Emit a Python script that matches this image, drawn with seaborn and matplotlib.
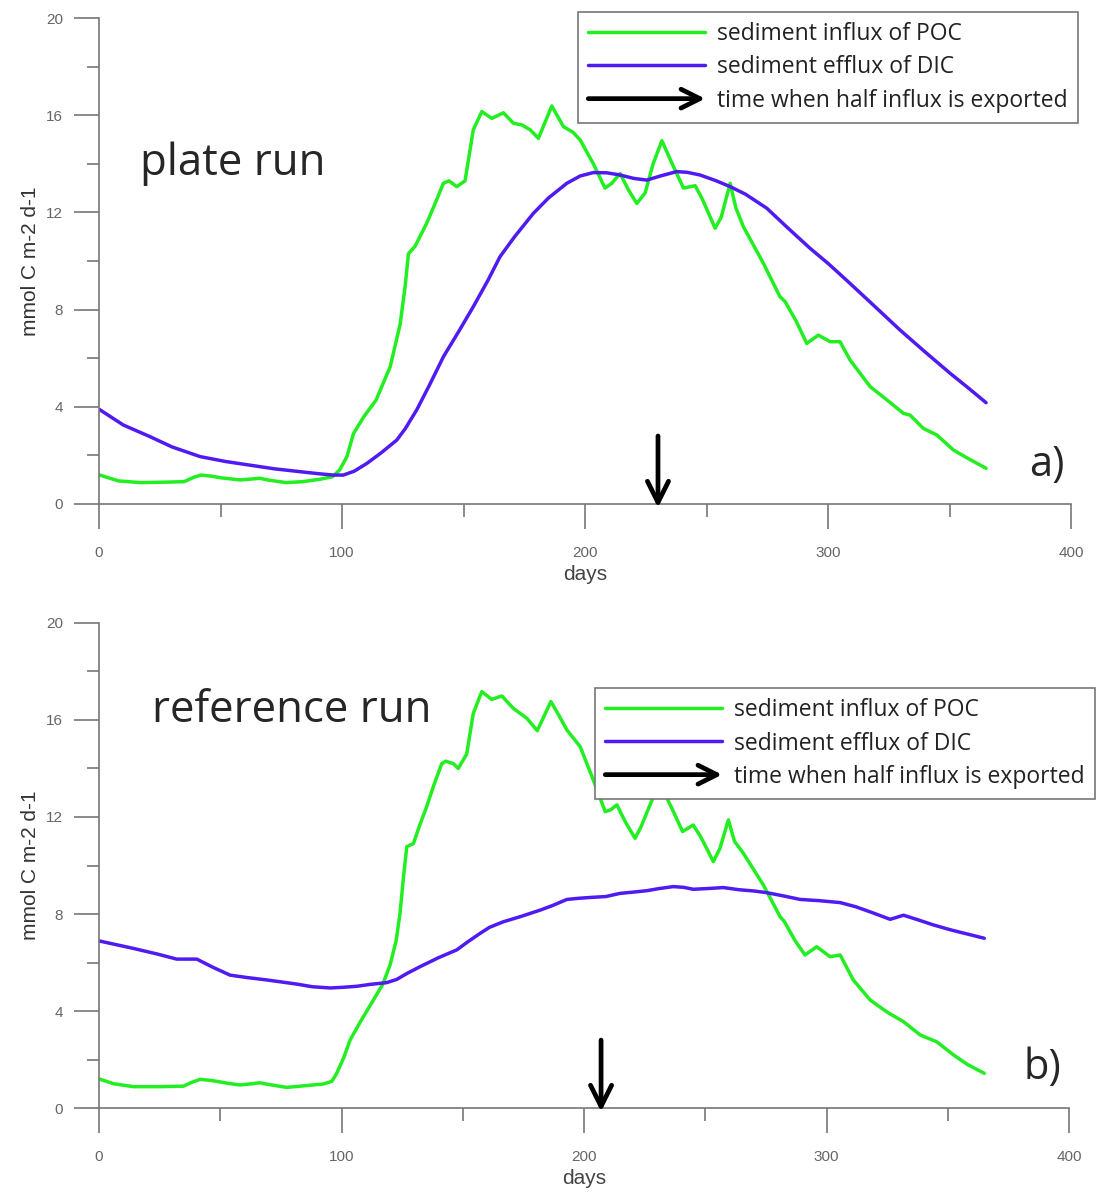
import numpy as np
import pandas as pd
import matplotlib
matplotlib.use('Agg')
import matplotlib.pyplot as plt
import seaborn as sns
from matplotlib.ticker import MultipleLocator
from matplotlib.legend_handler import HandlerBase
from matplotlib.patches import FancyArrowPatch
from matplotlib.lines import Line2D

# plate run (a)
plate_poc_days = [0, 8, 17, 28, 35, 39, 42, 46, 50, 58, 63, 66, 70, 77, 84, 91, 96, 99, 102, 104.7,
                  109, 114, 119.8, 123.9, 126, 127.3, 130, 134.8, 138, 141.7, 144, 147.2, 150.6, 154,
                  157.5, 161.6, 166.4, 170.5, 174, 177.4, 180.8, 186.3, 191.1, 195, 198, 203.4, 208.2,
                  211, 214.4, 218, 221.3, 224.7, 228, 231.6, 236.3, 240.5, 245.3, 248, 253.5, 256,
                  259.7, 262, 265.2, 273.4, 280.2, 282.3, 287, 291.2, 296, 300.8, 304.9, 309, 317.3,
                  324, 331, 333.7, 339.2, 344.7, 351.6, 358, 365]
plate_poc = [1.2, 0.95, 0.88, 0.9, 0.92, 1.1, 1.19, 1.15, 1.08, 0.99, 1.03, 1.06, 0.98, 0.88, 0.92,
             1.02, 1.12, 1.4, 1.95, 2.9, 3.6, 4.28, 5.65, 7.4, 9.0, 10.3, 10.6, 11.55, 12.3, 13.2,
             13.3, 13.06, 13.3, 15.4, 16.15, 15.87, 16.1, 15.67, 15.6, 15.4, 15.05, 16.38, 15.53,
             15.3, 14.98, 14.0, 13.0, 13.2, 13.6, 12.9, 12.37, 12.8, 14.0, 14.95, 13.9, 13.0, 13.1,
             12.6, 11.35, 11.8, 13.2, 12.2, 11.4, 9.9, 8.53, 8.33, 7.5, 6.61, 6.95, 6.68, 6.68,
             5.93, 4.83, 4.3, 3.73, 3.66, 3.11, 2.84, 2.22, 1.85, 1.47]
plate_dic_days = [0, 10, 21, 30, 41.6, 52, 62, 72, 82.7, 90, 96.4, 100.5, 105, 110.2, 116, 122.5,
                  126, 130.7, 136, 141.7, 148, 154, 160, 165, 171, 178.7, 185, 192.5, 198, 203.4,
                  209, 214.4, 220, 225.4, 231, 237.7, 242, 247.3, 254, 259.7, 266, 274.8, 283,
                  292.6, 300, 309, 319, 329.6, 340, 350.2, 358, 365]
plate_dic = [3.9, 3.25, 2.77, 2.35, 1.95, 1.75, 1.6, 1.45, 1.33, 1.25, 1.19, 1.19, 1.35, 1.67, 2.1,
             2.63, 3.1, 3.87, 4.9, 6.06, 7.1, 8.12, 9.2, 10.18, 11.0, 11.96, 12.6, 13.2, 13.5,
             13.64, 13.63, 13.54, 13.4, 13.33, 13.5, 13.68, 13.65, 13.54, 13.3, 13.06, 12.75,
             12.17, 11.4, 10.52, 9.9, 9.08, 8.15, 7.16, 6.25, 5.38, 4.75, 4.17]
plate_half_day = 230

# reference run (b)
ref_poc_days = [0, 6, 14.2, 25, 34.8, 38, 41.6, 45, 48.5, 53, 58.1, 63, 66.3, 70, 77.3, 85, 92.5,
                96, 98, 101, 103.5, 108, 113.1, 117, 120, 122.5, 124.1, 125.5, 126.9, 129.6, 132,
                135.1, 138, 141.3, 143, 146.1, 148.1, 151.6, 154.3, 157.8, 161.9, 166.1, 170.8,
                176.4, 180.7, 186.3, 189, 192.9, 198.4, 203.8, 208.7, 211, 213.5, 217, 221, 223.5,
                228, 231.6, 236, 240.6, 245, 248, 253.3, 256, 259.5, 262, 265.7, 273.9, 280.8,
                282.5, 287, 291.1, 295.9, 301.4, 305.6, 311, 318, 325, 331.7, 338.6, 345.4, 352.3,
                358, 365]
ref_poc = [1.2, 1.0, 0.88, 0.88, 0.9, 1.05, 1.18, 1.15, 1.1, 1.02, 0.95, 1.0, 1.04, 0.97, 0.85,
           0.92, 0.99, 1.1, 1.43, 2.1, 2.8, 3.6, 4.45, 5.1, 5.9, 6.9, 8.03, 9.5, 10.78, 10.9, 11.6,
           12.43, 13.3, 14.2, 14.3, 14.2, 14.0, 14.6, 16.27, 17.17, 16.85, 16.99, 16.48, 16.07,
           15.56, 16.76, 16.3, 15.59, 14.9, 13.53, 12.22, 12.3, 12.5, 11.8, 11.12, 11.6, 12.7,
           13.28, 12.4, 11.4, 11.67, 11.2, 10.16, 10.7, 11.88, 11.0, 10.5, 9.2, 7.89, 7.7, 6.9,
           6.31, 6.65, 6.24, 6.31, 5.28, 4.45, 3.95, 3.56, 3.01, 2.73, 2.19, 1.8, 1.43]
ref_dic_days = [0, 14.2, 24, 32, 40.3, 47, 54, 61, 69.2, 75, 81.5, 88, 95.3, 101, 106.3, 112,
                118.6, 122.7, 127, 132.4, 140, 147.5, 152, 157.1, 161, 166.7, 174, 181.9, 187,
                192.9, 198, 203.8, 209, 214.8, 220, 225.8, 231, 236.8, 241, 245, 251, 257.4, 264,
                270, 275.3, 282, 289.1, 297, 305.6, 312, 319, 326.2, 331.7, 338, 344, 351, 357.8,
                365]
ref_dic = [6.89, 6.58, 6.35, 6.14, 6.14, 5.8, 5.48, 5.38, 5.28, 5.2, 5.11, 5.0, 4.95, 4.98, 5.02,
           5.1, 5.17, 5.3, 5.55, 5.83, 6.2, 6.52, 6.85, 7.2, 7.45, 7.68, 7.9, 8.16, 8.35, 8.6,
           8.65, 8.69, 8.72, 8.85, 8.9, 8.96, 9.05, 9.13, 9.1, 9.02, 9.05, 9.09, 9.0, 8.95, 8.88,
           8.75, 8.6, 8.55, 8.47, 8.3, 8.05, 7.78, 7.95, 7.75, 7.55, 7.35, 7.18, 7.0]
ref_half_day = 207

labels = ['sediment influx of POC', 'sediment efflux of DIC', 'time when half influx is exported']
green = '#22EE22'
blue = '#4F1BF2'
gray = '#777777'

sns.set_style('ticks')
plt.rcParams['font.family'] = ['Liberation Sans', 'DejaVu Sans']
plt.rcParams['lines.solid_joinstyle'] = 'round'


class ArrowHandler(HandlerBase):
    def create_artists(self, legend, orig_handle, xdescent, ydescent, width, height, fontsize, trans):
        y = height / 2 - ydescent
        arr = FancyArrowPatch((-xdescent, y), (-xdescent + width, y), arrowstyle='->',
                              mutation_scale=34, lw=3.4, color='black', transform=trans,
                              shrinkA=0, shrinkB=0)
        return [arr]


def panel(ax, poc_days, poc, dic_days, dic, half_day, name, tag, name_xy, tag_xy, leg_anchor):
    sns.lineplot(x=poc_days, y=poc, ax=ax, color=green, lw=2.5, estimator=None, sort=False)
    sns.lineplot(x=dic_days, y=dic, ax=ax, color=blue, lw=2.5, estimator=None, sort=False)
    ax.annotate('', xy=(half_day, -0.15), xytext=(half_day, 2.8),
                arrowprops=dict(arrowstyle='->', lw=3.4, color='black', mutation_scale=38,
                                shrinkA=0, shrinkB=0), annotation_clip=False)
    ax.set_xlim(0, 400)
    ax.set_ylim(0, 20)
    ax.xaxis.set_major_locator(MultipleLocator(100))
    ax.xaxis.set_minor_locator(MultipleLocator(50))
    ax.yaxis.set_major_locator(MultipleLocator(4))
    ax.yaxis.set_minor_locator(MultipleLocator(2))
    ax.tick_params(which='major', length=18, width=1.2, color=gray, labelsize=11,
                   labelcolor='#666666', pad=8)
    ax.tick_params(axis='x', which='major', pad=12)
    ax.tick_params(which='minor', length=9, width=1.2, color=gray)
    sns.despine(ax=ax)
    for s in ['left', 'bottom']:
        ax.spines[s].set_color(gray)
        ax.spines[s].set_linewidth(1.2)
    ax.set_xlabel('days', fontsize=15, color='#444444', labelpad=4)
    ax.set_ylabel('mmol C m-2 d-1', fontsize=15, color='#333333', labelpad=4)
    ax.text(name_xy[0], name_xy[1], name, fontsize=31.5, family='Open Sans', va='center', ha='left')
    ax.text(tag_xy[0], tag_xy[1], tag, fontsize=30, family='Open Sans', va='center', ha='center')

    handles = [Line2D([], [], color=green, lw=2.5), Line2D([], [], color=blue, lw=2.5),
               FancyArrowPatch((0, 0), (1, 0))]
    leg = ax.legend(handles, labels, handler_map={FancyArrowPatch: ArrowHandler()},
                    loc='upper left', bbox_to_anchor=leg_anchor, bbox_transform=ax.figure.transFigure,
                    borderaxespad=0, fancybox=False, framealpha=1, edgecolor=gray,
                    prop={'family': 'Open Sans', 'size': 16.5}, handlelength=5.1, handletextpad=0.5,
                    labelspacing=0.4, borderpad=0.45)
    leg.get_frame().set_linewidth(1.2)
    for t in leg.get_texts():
        t.set_color('#222222')


fig = plt.figure(figsize=(11.03, 12.02), dpi=100)
ax1 = fig.add_axes([0.0898, 0.5807, 0.8813, 0.4043])
ax2 = fig.add_axes([0.0898, 0.0782, 0.8795, 0.4035])

panel(ax1, plate_poc_days, plate_poc, plate_dic_days, plate_dic, plate_half_day,
      'plate run', 'a)', (17, 14.0), (390, 1.6), (0.524, 0.990))
panel(ax2, ref_poc_days, ref_poc, ref_dic_days, ref_dic, ref_half_day,
      'reference run', 'b)', (22, 16.4), (389, 1.65), (0.5394, 0.4276))

fig.savefig('out.png', dpi=100)
